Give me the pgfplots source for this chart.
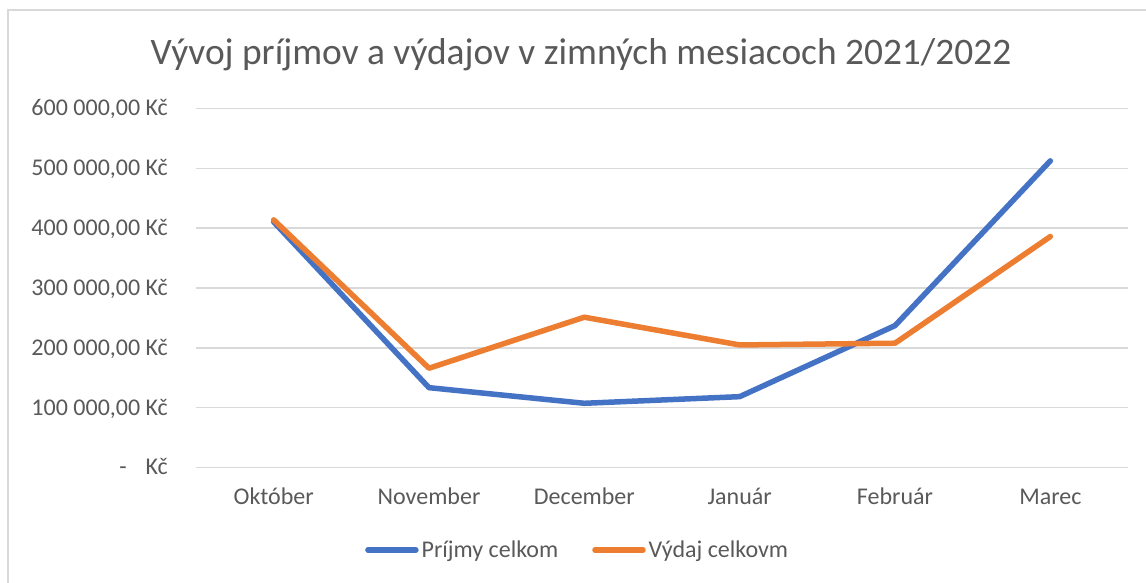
\documentclass[border=0pt]{standalone}
\usepackage{fontspec}
\setmainfont{Carlito}
\usepackage{pgfplots}
\pgfplotsset{compat=1.18}
\definecolor{txt}{HTML}{595959}
\definecolor{gridc}{HTML}{D9D9D9}
\definecolor{cblue}{HTML}{4472C4}
\definecolor{corange}{HTML}{ED7D31}
\begin{document}
\begin{tikzpicture}
\begin{axis}[
  at={(196pt,115.5pt)}, anchor=south west,
  scale only axis, width=932pt, height=359pt,
  xmin=-0.5, xmax=5.5, ymin=0, ymax=600000,
  scaled y ticks=false,
  xtick={0,1,2,3,4,5},
  xticklabels={Október,November,December,Január,Február,Marec},
  ytick={0,100000,200000,300000,400000,500000,600000},
  yticklabels={{-\hspace{19pt}Kč},{100 000,00 Kč},{200 000,00 Kč},{300 000,00 Kč},{400 000,00 Kč},{500 000,00 Kč},{600 000,00 Kč}},
  major tick length=0pt,
  tick style={draw=none},
  axis line style={draw=none},
  ymajorgrids, grid style={color=gridc, line width=1.5pt},
  ticklabel style={font=\fontsize{24}{28}\selectfont, text=txt, inner sep=0pt},
  yticklabel style={anchor=base east, xshift=-28pt, yshift=-7.5pt},
  xticklabel style={anchor=base, yshift=-37pt},
  clip=false,
  legend columns=2,
  legend cell align=left,
  legend style={draw=none, fill=none, at={(0.41,-0.23)}, anchor=center,
    font=\fontsize{24}{28}\selectfont, text=txt,
    nodes={inner xsep=3pt, inner ysep=0pt},
    /tikz/every even column/.append style={column sep=31pt}},
  legend image code/.code={\draw[#1, line cap=round] (0pt,0pt) -- (48pt,0pt);},
]
\addplot[cblue, line width=5.5pt, line join=round, line cap=round] coordinates {
  (0,410500) (1,133400) (2,107300) (3,118400) (4,237100) (5,512500)};
\addlegendentry{Príjmy celkom}
\addplot[corange, line width=5.5pt, line join=round, line cap=round] coordinates {
  (0,413900) (1,165900) (2,251200) (3,204800) (4,207700) (5,386000)};
\addlegendentry{Výdaj celkovm}
\end{axis}
\node[anchor=base, text=txt, font=\fontsize{37.4}{44}\selectfont, inner sep=0pt] at (581pt,518pt) {Vývoj príjmov a výdajov v zimných mesiacoch 2021/2022};
\draw[gridc, line width=1.5pt] (8pt,0pt) -- (8pt,573pt) -- (1146pt,573pt);
\pgfresetboundingbox
\path (0pt,0pt) rectangle (1146pt,583pt);
\end{tikzpicture}
\end{document}
